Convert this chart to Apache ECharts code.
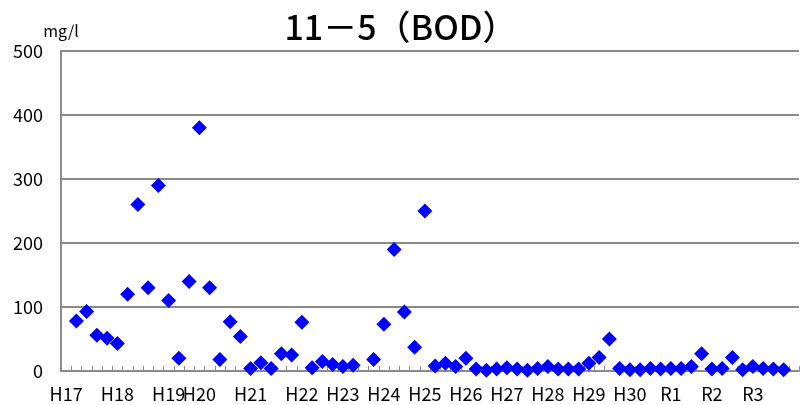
<!DOCTYPE html>
<html>
<head>
<meta charset="utf-8">
<script src="https://cdn.jsdelivr.net/npm/echarts@6/dist/echarts.min.js"></script>
<style>
  html, body { margin: 0; padding: 0; background: #fff; }
  #chart { width: 801px; height: 405px; }
</style>
</head>
<body>
<div id="chart"></div>
<script>
// year labels and the category index where each one sits
const yearLabels = ['H17', 'H18', 'H19', 'H20', 'H21', 'H22', 'H23', 'H24', 'H25',
  'H26', 'H27', 'H28', 'H29', 'H30', 'R1', 'R2', 'R3']
const yearStart = [0, 5, 10, 13, 18, 23, 27, 31, 35, 39, 43, 47, 51, 55, 59, 63, 67]

// BOD (mg/l), one value per sampling, null = no measurement
const bod = [
  null, 78, 93, 56, 51, 43, 120, 260, 130, 290,
  110, 20, 140, 380, 130, 18, 77, 54, 4, 13,
  4, 27, 25, 76, 5, 15, 10, 7, 9, null,
  18, 73, 190, 92, 37, 250, 8, 12, 7, 20,
  3, 1, 3, 5, 3, 1, 4, 7, 3, 3,
  3, 12, 21, 50, 4, 2, 2, 4, 3, 4,
  4, 7, 27, 3, 4, 21, 2, 7, 4, 3,
  2, null
]

const yTicks = [0, 100, 200, 300, 400, 500]

const categories = bod.map((v, i) => {
  const k = yearStart.indexOf(i)
  return k >= 0 ? yearLabels[k] : ''
})

const font = '"Noto Sans CJK JP", "Liberation Sans", sans-serif'
const gray = '#8a8a8a'

const chart = echarts.init(document.getElementById('chart'))
chart.setOption({
  animation: false,
  backgroundColor: '#fff',
  title: {
    text: '11－5（BOD）',
    left: 'center',
    top: 5,
    textStyle: { fontFamily: font, fontSize: 34, fontWeight: 500, color: '#000' }
  },
  grid: { left: 61, right: 2, top: 51, bottom: 34 },
  xAxis: {
    type: 'category',
    data: categories,
    boundaryGap: true,
    axisLine: { lineStyle: { color: gray, width: 2 } },
    axisTick: { show: true, inside: true, length: 5, interval: 0, lineStyle: { color: gray, width: 1 } },
    axisLabel: { interval: 0, margin: 14, color: '#000', fontFamily: font, fontSize: 18 },
    splitLine: { show: false }
  },
  yAxis: {
    type: 'value',
    min: yTicks[0],
    max: yTicks[yTicks.length - 1],
    interval: 100,
    name: 'mg/l',
    nameLocation: 'end',
    nameGap: 12,
    nameTextStyle: { color: '#000', fontFamily: font, fontSize: 16 },
    axisLine: { show: true, lineStyle: { color: gray, width: 2 } },
    axisTick: { show: false },
    axisLabel: { margin: 18, color: '#000', fontFamily: font, fontSize: 18 },
    splitLine: { lineStyle: { color: gray, width: 2 } }
  },
  series: [{
    type: 'scatter',
    data: bod.map(v => (v === null ? '-' : v)),
    symbol: 'diamond',
    symbolSize: 15,
    itemStyle: { color: '#0000ff', opacity: 1 }
  }]
})
</script>
</body>
</html>
